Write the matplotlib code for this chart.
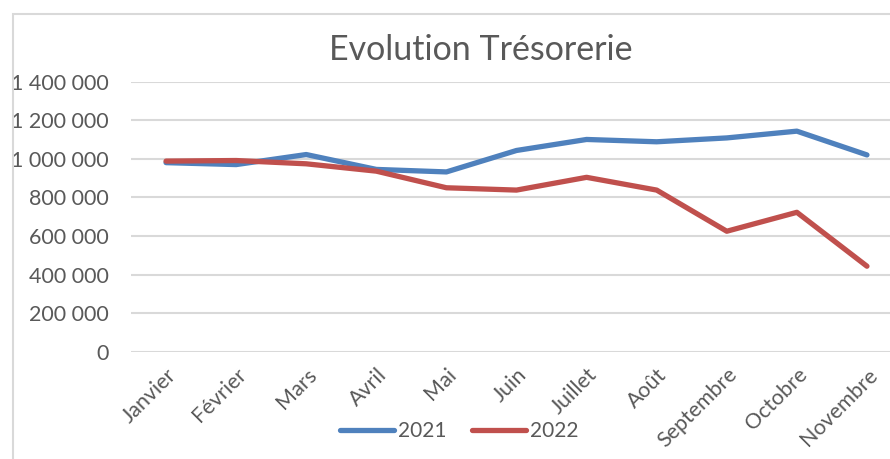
import matplotlib
matplotlib.use('Agg')
import matplotlib.pyplot as plt
from matplotlib.ticker import FuncFormatter
from matplotlib.patches import Rectangle

plt.rcParams['font.family'] = ['Lato', 'DejaVu Sans']

mois = ['Janvier', 'Février', 'Mars', 'Avril', 'Mai', 'Juin', 'Juillet',
        'Août', 'Septembre', 'Octobre', 'Novembre']
tres_2021 = [980000, 970000, 1022000, 945000, 932000, 1043000, 1100000,
             1088000, 1108000, 1143000, 1020000]
tres_2022 = [988000, 991000, 974000, 936000, 850000, 838000, 904000,
             838000, 625000, 723000, 444000]

W, H = 890, 459
fig = plt.figure(figsize=(W / 100, H / 100), dpi=100)
gris = '#595959'

# cadre du graphique (coupe a droite comme la capture)
fig.patches.append(Rectangle((13 / W, -0.05), 1.0, 1 - 14 / H + 0.05,
                             transform=fig.transFigure, fill=False,
                             edgecolor='#D9D9D9', linewidth=1.5))

ax = fig.add_axes([131 / W, 1 - 352 / H, (902 - 131) / W, (352 - 81.5) / H])
x = range(len(mois))
ax.plot(x, tres_2021, color='#4F81BD', linewidth=3.8, label='2021',
        solid_capstyle='round', solid_joinstyle='round')
ax.plot(x, tres_2022, color='#C0504D', linewidth=3.8, label='2022',
        solid_capstyle='round', solid_joinstyle='round')

ax.set_xlim(-0.5, len(mois) - 0.5)
ax.set_ylim(0, 1400000)
ax.set_yticks(range(0, 1400001, 200000))
ax.yaxis.set_major_formatter(FuncFormatter(lambda v, p: '{:,.0f}'.format(v).replace(',', ' ')))
ax.set_xticks(list(x))
ax.set_xticklabels(mois, rotation=45, ha='right', va='top', rotation_mode='anchor')
ax.tick_params(axis='both', length=0, colors=gris, labelsize=15.5)
ax.tick_params(axis='x', pad=9)
ax.tick_params(axis='y', pad=16)
ax.grid(axis='y', color='#D9D9D9', linewidth=1.5)
ax.set_axisbelow(True)
for s in ax.spines.values():
    s.set_visible(False)

fig.text(481 / W, 1 - 50 / H, 'Evolution Trésorerie', ha='center', va='center',
         fontsize=24.5, color=gris)

fig.legend(loc='center', bbox_to_anchor=(459 / W, 1 - 431 / H), ncol=2,
           frameon=False, fontsize=15, labelcolor=gris, handlelength=2.6,
           handletextpad=0.2, columnspacing=1.2)

fig.savefig('out.png', dpi=100)
